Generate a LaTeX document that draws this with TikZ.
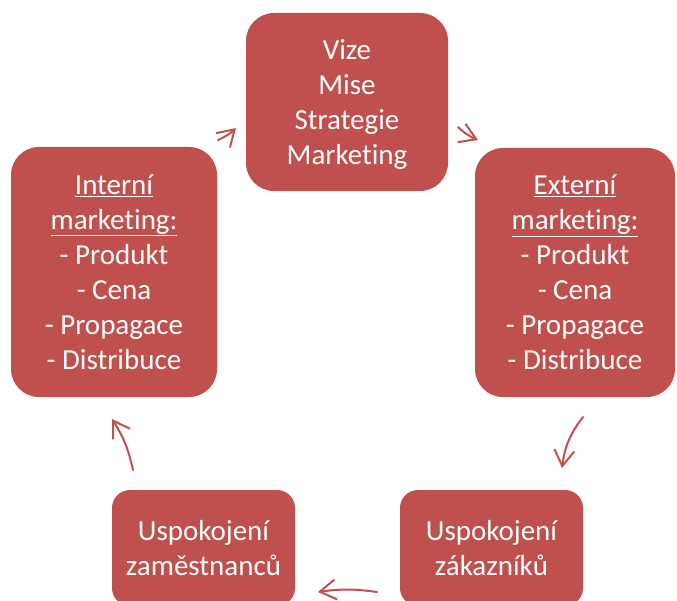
\documentclass[tikz,border=0pt]{standalone}
\usepackage{fontspec}
\setmainfont[Ligatures=NoCommon]{Carlito}
\usetikzlibrary{shapes,arrows.meta}
\definecolor{rouge}{HTML}{C0504D}

\begin{document}
\begin{tikzpicture}[x=1pt,y=-1pt]
 % style des noeuds
  \tikzstyle{grand}=[rectangle,fill=rouge,rounded corners=28pt,text=white,align=center,font=\fontsize{29}{35}\selectfont]
  \tikzstyle{petit}=[grand,rounded corners=18pt]
 % style des fleches
  \tikzstyle{suite}=[-{Straight Barb[length=16pt,width=20pt]},draw=rouge,line width=2pt,line cap=round]
  \useasboundingbox (0,0) rectangle (677,601);
 % placement des noeuds
  \node[grand,minimum width=202pt,minimum height=178pt,text depth=0pt] (vize) at (347,102) {Vize\\Mise\\Strategie\\Marketing};
  \node[grand,minimum width=200pt,minimum height=249pt] (externi) at (575,272.5) {\underline{Externí}\\\underline{marketing:}\\- Produkt\\- Cena\\- Propagace\\- Distribuce};
  \node[petit,minimum width=183pt,minimum height=116pt] (zakaznici) at (491.5,548) {Uspokojení\\zákazníků};
  \node[petit,minimum width=183pt,minimum height=116pt] (zamestnanci) at (203.5,548) {Uspokojení\\zaměstnanců};
  \node[grand,minimum width=206pt,minimum height=250pt] (interni) at (114,272) {\underline{Interní}\\\underline{marketing:}\\- Produkt\\- Cena\\- Propagace\\- Distribuce};
 % extremites des fleches
  \coordinate (d1) at (218,140); \coordinate (f1) at (236,128);
  \coordinate (d2) at (458,127); \coordinate (f2) at (478,140);
  \coordinate (d3) at (583,417); \coordinate (f3) at (562,468);
  \coordinate (d4) at (377,592); \coordinate (f4) at (318,592);
  \coordinate (d5) at (133,470); \coordinate (f5) at (112,419);
 % placement des fleches
  \draw[suite] (d1) to[bend right=10] (f1);
  \draw[suite] (d2) to[bend right=10] (f2);
  \draw[suite] (d3) to[bend right=15] (f3);
  \draw[suite] (d4) to[bend right=8] (f4);
  \draw[suite] (d5) to[bend right=10] (f5);
\end{tikzpicture}
\end{document}
